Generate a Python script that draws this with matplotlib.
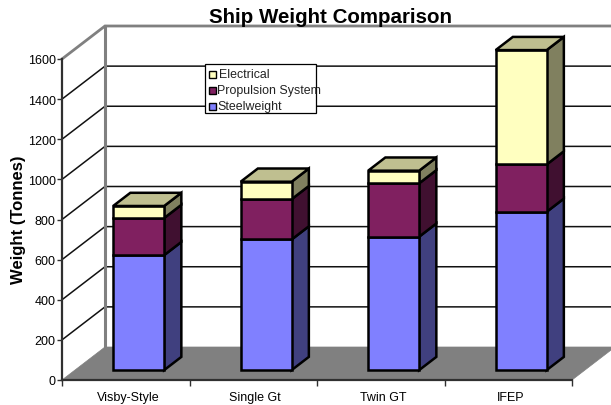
import matplotlib
matplotlib.use("Agg")
import matplotlib.pyplot as plt
import numpy as np
from matplotlib.patches import Polygon, Rectangle

plt.rcParams["font.family"] = ["Liberation Sans", "DejaVu Sans"]

ships = ["Visby-Style", "Single Gt", "Twin GT", "IFEP"]
steelweight = [573, 651, 665, 789]
propulsion = [185, 201, 266, 236]
electrical = [60, 87, 63, 570]
yticks = [0, 200, 400, 600, 800, 1000, 1200, 1400, 1600]

W, H = 611, 406
# axes box in pixels (front plane of the 3d chart)
left, right, top, bottom = 62, 572, 60, 381
fig = plt.figure(figsize=(W / 100, H / 100), dpi=100)
ax = fig.add_axes([left / W, 1 - bottom / H, (right - left) / W, (bottom - top) / H])
ax.set_xlim(0, len(ships))
ax.set_ylim(0, 1600)
ax.patch.set_visible(False)

# depth of the box in data units
DX = 43 / ((right - left) / len(ships))
DY = 33 / ((bottom - top) / 1600)


def pt(x, y, d):
    return (x + d * DX, y + d * DY)


def face(points, color, z, edge="black", lw=1.8):
    ax.add_patch(Polygon(points, closed=True, facecolor=color, edgecolor=edge,
                         linewidth=lw, joinstyle="miter", clip_on=False, zorder=z))


n = len(ships)
# floor
face([pt(0, 0, 0), pt(n, 0, 0), pt(n, 0, 1), pt(0, 0, 1)], "#808080", 1, edge="#808080", lw=0.5)

# grid lines on side and back wall
for v in yticks[1:-1]:
    xs, ys = zip(pt(0, v, 0), pt(0, v, 1), pt(n, v, 1))
    ax.plot(xs, ys, color="#111111", lw=1.1, clip_on=False, zorder=2, solid_joinstyle="miter")
xs, ys = zip(pt(0, 1600, 0), pt(0, 1600, 1), pt(n, 1600, 1))
ax.plot(xs, ys, color="#808080", lw=2, clip_on=False, zorder=2, solid_joinstyle="miter")
xs, ys = zip(pt(0, 0, 1), pt(0, 1600, 1))
ax.plot(xs, ys, color="#808080", lw=2.2, clip_on=False, zorder=2)

# bars
d0, d1 = 0.3, 0.7
bw = 0.4
series = [
    ("Steelweight", steelweight, "#8080FF", "#40407F"),
    ("Propulsion System", propulsion, "#802060", "#401030"),
    ("Electrical", electrical, "#FFFFC0", "#80805F"),
]
for i in range(n):
    x0 = i + 0.5 - bw / 2
    x1 = x0 + bw
    base = 0
    for name, vals, col, side in series:
        h = vals[i]
        face([pt(x1, base, d0), pt(x1, base, d1), pt(x1, base + h, d1), pt(x1, base + h, d0)], side, 3)
        face([pt(x0, base, d0), pt(x1, base, d0), pt(x1, base + h, d0), pt(x0, base + h, d0)], col, 4)
        base += h
    face([pt(x0, base, d0), pt(x1, base, d0), pt(x1, base, d1), pt(x0, base, d1)], "#BFBF90", 4)

# axes
for s in ["top", "right"]:
    ax.spines[s].set_visible(False)
for s in ["left", "bottom"]:
    ax.spines[s].set_color("#303030")
    ax.spines[s].set_linewidth(1.6)
    ax.spines[s].set_zorder(5)
ax.set_yticks(yticks)
ax.tick_params(axis="y", length=3.5, width=1, color="#303030", labelsize=9, pad=1)
ax.set_xticks(np.arange(n + 1))
ax.set_xticklabels([])
ax.tick_params(axis="x", which="major", length=4, width=1, color="#303030")
ax.set_xticks(np.arange(n) + 0.516, minor=True)
ax.set_xticklabels(ships, minor=True, fontsize=9)
ax.tick_params(axis="x", which="minor", length=0, pad=8)

fig.text(330 / W, 1 - 17.5 / H, "Ship Weight Comparison", fontsize=14.8, fontweight="bold",
         ha="center", va="center")
fig.text(18.5 / W, 1 - 220 / H, "Weight (Tonnes)", fontsize=12, fontweight="bold",
         rotation=90, ha="center", va="center")

# legend box, text runs over the box like in the original
fig.add_artist(Rectangle((205 / W, 1 - 113.5 / H), 111 / W, 49 / H, transform=fig.transFigure,
                         facecolor="white", edgecolor="black", linewidth=0.9, zorder=6))
for (name, vals, col, side), yp, xt in zip(series[::-1], [75, 91, 107], [219, 217, 217]):
    fig.add_artist(Rectangle((209 / W, 1 - (yp + 3.5) / H), 7 / W, 7 / H, transform=fig.transFigure,
                             facecolor=col, edgecolor="black", linewidth=1, zorder=7))
    fig.text(xt / W, 1 - yp / H, name, fontsize=8.9, color="#222222", ha="left", va="center", zorder=7)

fig.savefig("out.png", dpi=100)
